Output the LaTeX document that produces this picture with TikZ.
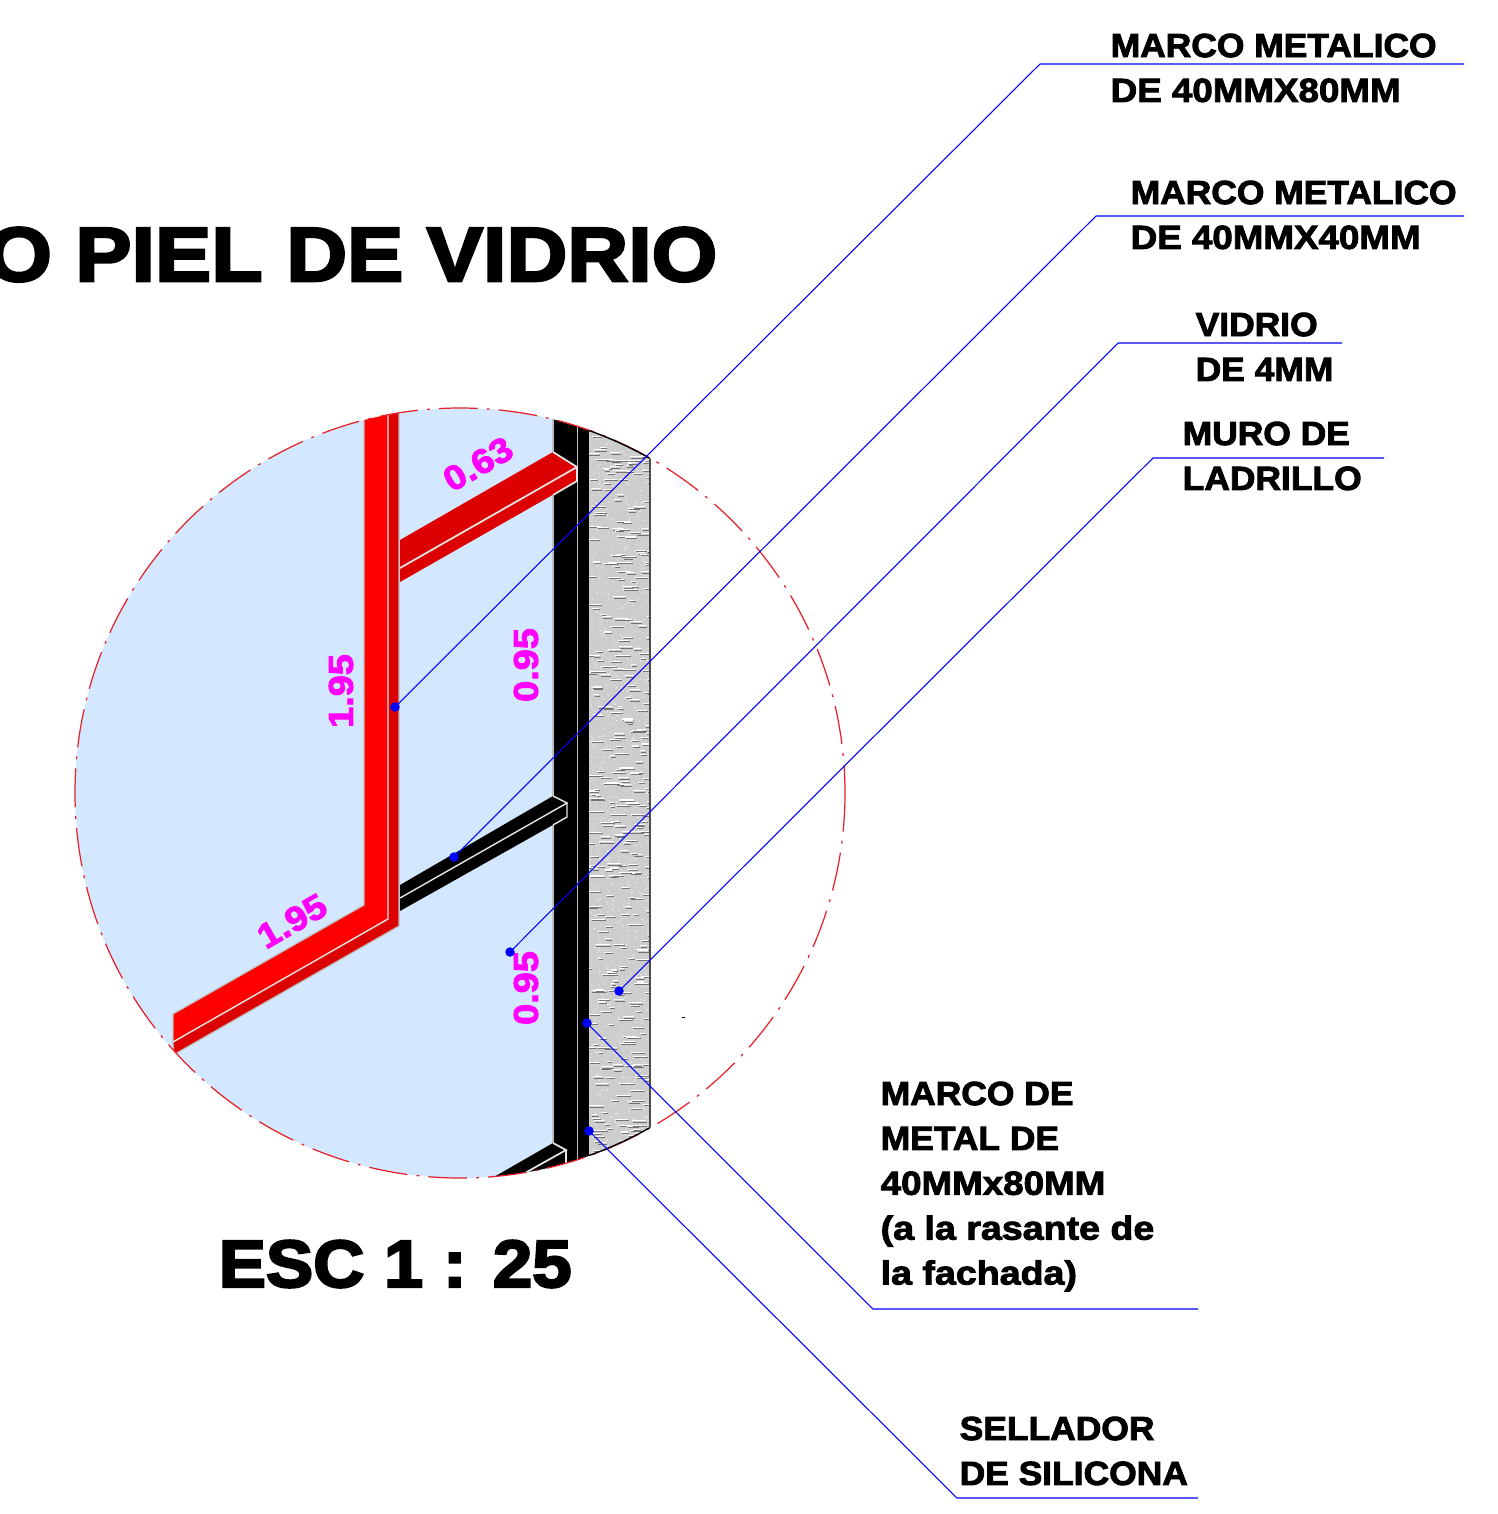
\documentclass[tikz,border=0pt]{standalone}
\usepackage{fontspec}
\newfontfamily\blk[UprightFont=* Bold,FakeBold=2.6,FakeStretch=1.06]{Liberation Sans}
\newfontfamily\blkw[UprightFont=* Bold,FakeBold=2.6,FakeStretch=1.10]{Liberation Sans}
\newfontfamily\blkl[UprightFont=* Bold,FakeBold=2.6,FakeStretch=1.125]{Liberation Sans}
\newfontfamily\blkt[UprightFont=* Bold,FakeBold=3.4,FakeStretch=1.10]{Liberation Sans}
\newfontfamily\blks[UprightFont=* Bold,FakeBold=3.4,FakeStretch=1.06]{Liberation Sans}
\definecolor{glass}{HTML}{D3E8FE}
\definecolor{dkred}{HTML}{DC0000}
\definecolor{wallg}{HTML}{CDCDCD}
\definecolor{leader}{HTML}{0000FF}
\definecolor{dimc}{HTML}{FF00FF}
\definecolor{circ}{HTML}{E8202A}
\tikzset{
  lbl/.style={anchor=north west,inner sep=0pt,align=left,font=\blk\fontsize{9.5}{12.76}\selectfont},
  dim/.style={inner sep=0pt,text=dimc,font=\blkw\fontsize{9.8}{11}\selectfont},
  lead/.style={draw=leader,line width=0.3pt},
  dotn/.style={circle,fill=leader,inner sep=0pt,minimum size=2.7pt},
  edge/.style={draw=white!75!black,line width=0.35pt},
  wedge/.style={draw=white!90!black,line width=0.4pt},
}
\begin{document}
\begin{tikzpicture}[x=0.01cm,y=-0.01cm]
\useasboundingbox (0,0) rectangle (1498,1514);
\fill[white] (0,0) rectangle (1498,1514);
\begin{scope}
  \clip (460,793) circle[radius=385];
  \fill[glass] (0,380) rectangle (553,1200);
  % wall
  \fill[wallg] (589,380) rectangle (650,1200);
  \begin{scope}
    \clip (589,380) rectangle (650,1200);
    \pgfmathsetseed{4242}
    \foreach \i in {1,...,1400}{
      \pgfmathsetmacro{\px}{589+61*rnd}
      \pgfmathsetmacro{\py}{425+740*rnd}
      \fill[white!92!black] (\px,\py) circle[radius=0.7];
    }
    \foreach \i in {1,...,420}{
      \pgfmathsetmacro{\px}{586+62*rnd}
      \pgfmathsetmacro{\py}{425+740*rnd}
      \pgfmathsetmacro{\pl}{4+11*rnd}
      \draw[white,line width=0.3pt] (\px,\py) -- ++(\pl,0);
      \draw[black!55,line width=0.22pt] (\px+1,\py+1.2) -- ++(\pl,0);
    }
  \end{scope}
  \draw[black!70,line width=0.5pt] (650,380) -- (650,1200);
  % mullion
  \fill[black] (553,380) rectangle (589,1200);
  \draw[edge] (553,380) -- (553,1200);
  \draw[wedge,line width=0.45pt,draw=white!75!black] (577.5,380) -- (577.5,1200);
  % black beams
  \fill[black] (400,885) -- (553,796) -- (567,803) -- (567,817) -- (400,911) -- cycle;
  \draw[wedge] (400,898) -- (567,803) -- (553,796);
  \draw[wedge] (567,803) -- (567,817) -- (553,825);
  \fill[black] (480,1185) -- (553,1143) -- (566,1150) -- (566,1165) -- (540,1185) -- cycle;
  \draw[wedge,line width=0.5pt] (553,1143) -- (566,1150) -- (525,1173);
  \draw[wedge,line width=0.5pt] (566,1150) -- (566,1164);
  % red beam top
  \fill[dkred] (400,540) -- (553,452) -- (577,467) -- (577,481) -- (400,582) -- cycle;
  \draw[wedge,line width=0.5pt] (400,568) -- (577,467) -- (553,452);
  \draw[wedge,line width=0.5pt] (577,467) -- (577,481) -- (553,495);
  % red L
  \fill[red] (364,380) -- (364,905) -- (173,1014) -- (173,1042) -- (388,919) -- (388,380) -- cycle;
  \fill[dkred] (388,380) -- (399,380) -- (399,926) -- (175,1054) -- (173,1042) -- (388,919) -- cycle;
  \draw[edge] (364,380) -- (364,905) -- (173,1014) -- (173,1054);
  \draw[wedge] (388,380) -- (388,919) -- (173,1042);
  \draw[edge] (399,380) -- (399,926) -- (175,1054);
\end{scope}
% circle
\draw[circ,line width=0.35pt,dash pattern=on 11pt off 2.6pt on 0.8pt off 2.6pt] (460,793) circle[radius=385];
\draw[black,line width=0.4pt] (589,430.5) arc[start angle=-70.4,end angle=-60.5,radius=385];
\draw[black,line width=0.4pt] (589,1155.5) arc[start angle=70.4,end angle=60.5,radius=385];
\fill[black] (682,1016.6) rectangle (684.5,1017.4);
% titles
\node[anchor=base east,inner sep=0pt,font=\blkt\fontsize{21.8}{24}\selectfont] (title) at (718,281) {O PIEL DE VIDRIO};
\node[anchor=base west,inner sep=0pt,font=\blks\fontsize{19}{22}\selectfont] (scale) at (218,1287) {ESC 1 : 25};
% dimensions
\node[dim,rotate=90] (d1) at (341,691) {1.95};
\node[dim,rotate=90] (d2) at (526,665) {0.95};
\node[dim,rotate=90] (d3) at (526,988) {0.95};
\node[dim,rotate=30] (d4) at (292,921) {1.95};
\node[dim,rotate=30] (d5) at (478,464) {0.63};
% labels
\node[lbl] (l1) at (1110,33) {MARCO METALICO\\{\blkw DE 40MMX80MM}};
\node[lbl] (l2) at (1130,180) {MARCO METALICO\\{\blkw DE 40MMX40MM}};
\node[lbl] (l3) at (1195,312) {VIDRIO\\DE 4MM};
\node[lbl] (l4) at (1182,421) {MURO DE\\LADRILLO};
\node[lbl] (l5) at (880,1081) {MARCO DE\\METAL DE\\{\blkw 40MMx80MM}\\{\blkl (a la rasante de}\\{\blkl la fachada)}};
\node[lbl] (l6) at (959,1416) {SELLADOR\\DE SILICONA};
% leaders
\node[dotn] (p1) at (395,707) {};
\node[dotn] (p2) at (454,857) {};
\node[dotn] (p3) at (510,952) {};
\node[dotn] (p4) at (619,991) {};
\node[dotn] (p5) at (587,1023) {};
\node[dotn] (p6) at (589,1131) {};
\coordinate (e1) at (1040,64);  \coordinate (f1) at (1464,64);
\coordinate (e2) at (1096,216); \coordinate (f2) at (1464,216);
\coordinate (e3) at (1118,343); \coordinate (f3) at (1342,343);
\coordinate (e4) at (1153,458); \coordinate (f4) at (1384,458);
\coordinate (e5) at (873,1309); \coordinate (f5) at (1198,1309);
\coordinate (e6) at (957,1498); \coordinate (f6) at (1198,1498);
\foreach \k in {1,...,6}{\draw[lead] (p\k.center) -- (e\k) -- (f\k);}
\end{tikzpicture}
\end{document}
